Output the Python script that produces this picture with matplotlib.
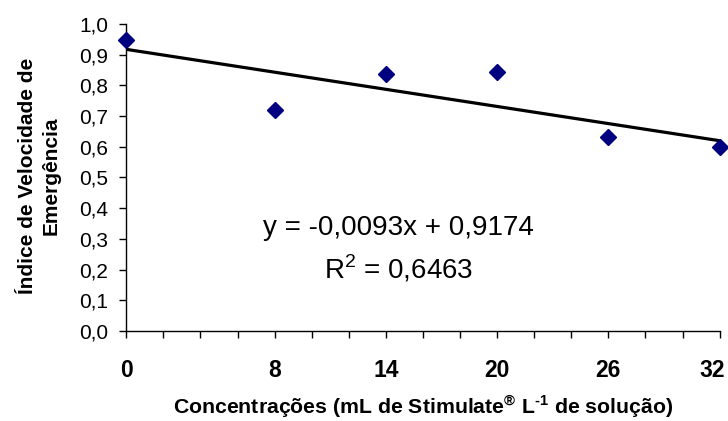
import matplotlib
matplotlib.use("Agg")
import matplotlib.pyplot as plt
import matplotlib.transforms as mtransforms
import numpy as np

# Data
concentracoes = [0, 8, 14, 20, 26, 32]
ive = [0.948, 0.719, 0.837, 0.844, 0.631, 0.600]
slope, intercept = -0.0093, 0.9174
r2 = 0.6463

plt.rcParams['font.family'] = ['Liberation Sans', 'DejaVu Sans']
plt.rcParams['mathtext.fontset'] = 'custom'
plt.rcParams['mathtext.rm'] = 'Liberation Sans'
plt.rcParams['mathtext.bf'] = 'Liberation Sans:bold'

fig = plt.figure(figsize=(7.28, 4.21), dpi=100)
ax = fig.add_axes([0.1735, 0.2138, 0.815, 0.7292])

# trend line from the fitted equation
xl = np.array([min(concentracoes), max(concentracoes)])
ax.plot(xl, slope * xl + intercept, color='black', lw=2.3, zorder=2)

ax.plot(concentracoes, ive, linestyle='none', marker='D', markersize=8.5,
        color='#000080', zorder=3, clip_on=False)

ax.set_xlim(0, 32)
ax.set_ylim(0, 1.0)
ax.set_xticks(np.arange(0, 33, 2))
ax.set_xticklabels([str(v) if v in concentracoes else '' for v in range(0, 33, 2)],
                   fontsize=16.5, fontweight='bold')
ax.set_yticks(np.arange(0, 1.01, 0.1))
ax.set_yticklabels([f'{v:.1f}'.replace('.', ',') for v in np.arange(0, 1.01, 0.1)],
                   fontsize=15)

ax.tick_params(axis='x', direction='out', length=5, width=1, pad=15, color='black')
ax.tick_params(axis='y', direction='out', length=5, width=1, pad=8, color='black')

# last label pulled inside the figure, like the original
last = ax.get_xticklabels()[-1]
last.set_horizontalalignment('right')
last.set_transform(last.get_transform() +
                   mtransforms.ScaledTranslation(4 / 72, 0, fig.dpi_scale_trans))

for s in ['top', 'right']:
    ax.spines[s].set_visible(False)
for s in ['left', 'bottom']:
    ax.spines[s].set_linewidth(1)

ax.set_xlabel('Concentrações (mL de Stimulate$^{\\mathbf{®}}$ L$^{\\mathbf{\u2010 1}}$ de solução)',
              fontsize=15.3, fontweight='bold', labelpad=8)
ax.set_ylabel('Índice de Velocidade de\nEmergência', fontsize=15,
              fontweight='bold', linespacing=1.3)
ax.yaxis.set_label_coords(-0.111, 0.505)

ax.text(14.7, 0.335, 'y = -0,0093x + 0,9174', fontsize=20, ha='center', va='center')
ax.text(14.7, 0.203, r'R$^{2}$ = 0,6463', fontsize=20, ha='center', va='center')

fig.savefig('out.png', dpi=100)
